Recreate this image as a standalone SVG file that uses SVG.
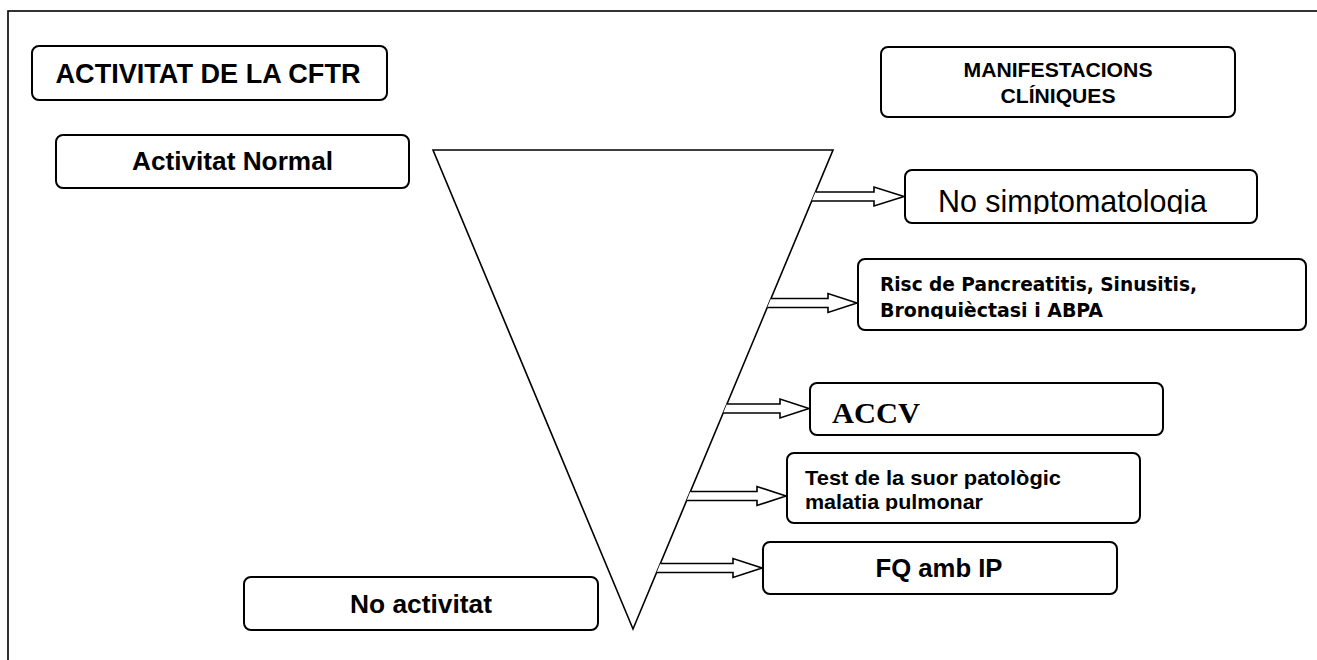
<svg xmlns="http://www.w3.org/2000/svg" width="1317" height="660" viewBox="0 0 1317 660">
<style>
.box{fill:#fff;stroke:#000;stroke-width:2}
.ar{fill:#fff;stroke:#000;stroke-width:1.6;stroke-linejoin:miter}
.t{font-family:"Liberation Sans",Arial,sans-serif;font-weight:bold;fill:#000}
.r{font-family:"Liberation Sans",Arial,sans-serif;fill:#000}
.th{font-family:"DejaVu Sans",Tahoma,sans-serif;font-weight:bold;font-stretch:condensed;fill:#000}
.sf{font-family:"Liberation Serif","Times New Roman",serif;font-weight:bold;fill:#000}
</style>
<defs>
<clipPath id="c4"><rect x="905" y="170" width="352" height="44"/></clipPath>
<clipPath id="c5"><rect x="858" y="259" width="448" height="60"/></clipPath>
<clipPath id="c7"><rect x="787" y="453" width="353" height="58"/></clipPath>
</defs>
<rect x="0" y="0" width="1317" height="660" fill="#fff"/>
<rect x="8" y="11" width="1400" height="700" fill="none" stroke="#000" stroke-width="1.6"/>
<g id="funnel"><polygon points="433,150 833,150 633,629" fill="#fff" stroke="#000" stroke-width="1.6"/></g>
<g id="connectors">
<polyline class="ar" points="815.5,192 874,192 874,187 904,196.5 874,206 874,201 811.7,201"/>
<polyline class="ar" points="771,298.5 828,298.5 828,293.5 857,303 828,312.5 828,307.5 767.2,307.5"/>
<polyline class="ar" points="726.9,404 780,404 780,399 809,408.5 780,418 780,413 723.2,413"/>
<polyline class="ar" points="690.4,491.5 757,491.5 757,486.5 786,496 757,505.5 757,500.5 686.7,500.5"/>
<polyline class="ar" points="660.4,563.5 733,563.5 733,558.5 762,568 733,577.5 733,572.5 656.6,572.5"/>
</g>
<g id="n1"><rect class="box" x="32" y="46" width="355" height="54" rx="7"/><text class="t" x="208" y="83" font-size="27" text-anchor="middle" textLength="305" lengthAdjust="spacingAndGlyphs">ACTIVITAT DE LA CFTR</text></g>
<g id="n2"><rect class="box" x="56" y="135" width="353" height="53" rx="7"/><text class="t" x="232.5" y="170" font-size="26" text-anchor="middle" textLength="201" lengthAdjust="spacingAndGlyphs">Activitat Normal</text></g>
<g id="n3"><rect class="box" x="881" y="47" width="354" height="70" rx="7"/><text class="t" x="1058" y="77" font-size="20" text-anchor="middle" textLength="189" lengthAdjust="spacingAndGlyphs">MANIFESTACIONS</text><text class="t" x="1058" y="103" font-size="20" text-anchor="middle" textLength="115" lengthAdjust="spacingAndGlyphs">CLÍNIQUES</text></g>
<g id="n4"><rect class="box" x="905" y="170" width="352" height="53" rx="7"/><text class="r" x="938" y="212" font-size="30.5" textLength="269" lengthAdjust="spacingAndGlyphs" clip-path="url(#c4)">No simptomatologia</text></g>
<g id="n5"><rect class="box" x="858" y="259" width="448" height="71" rx="7"/><g clip-path="url(#c5)"><text class="th" x="880" y="291" font-size="20" textLength="317" lengthAdjust="spacingAndGlyphs">Risc de Pancreatitis, Sinusitis,</text><text class="th" x="880" y="317" font-size="20" textLength="223" lengthAdjust="spacingAndGlyphs">Bronquièctasi i ABPA</text></g></g>
<g id="n6"><rect class="box" x="810" y="383" width="353" height="52" rx="7"/><text class="sf" x="832" y="423" font-size="30" textLength="88" lengthAdjust="spacingAndGlyphs">ACCV</text></g>
<g id="n7"><rect class="box" x="787" y="453" width="353" height="70" rx="7"/><g clip-path="url(#c7)"><text class="t" x="805" y="485" font-size="21" textLength="256" lengthAdjust="spacingAndGlyphs">Test de la suor patològic</text><text class="t" x="805" y="509" font-size="21" textLength="178" lengthAdjust="spacingAndGlyphs">malatia pulmonar</text></g></g>
<g id="n8"><rect class="box" x="763" y="542" width="354" height="52" rx="7"/><text class="t" x="939" y="577" font-size="25" text-anchor="middle" textLength="127" lengthAdjust="spacingAndGlyphs">FQ amb IP</text></g>
<g id="n9"><rect class="box" x="244" y="577" width="354" height="53" rx="7"/><text class="t" x="421" y="613" font-size="26" text-anchor="middle" textLength="142" lengthAdjust="spacingAndGlyphs">No activitat</text></g>
</svg>
